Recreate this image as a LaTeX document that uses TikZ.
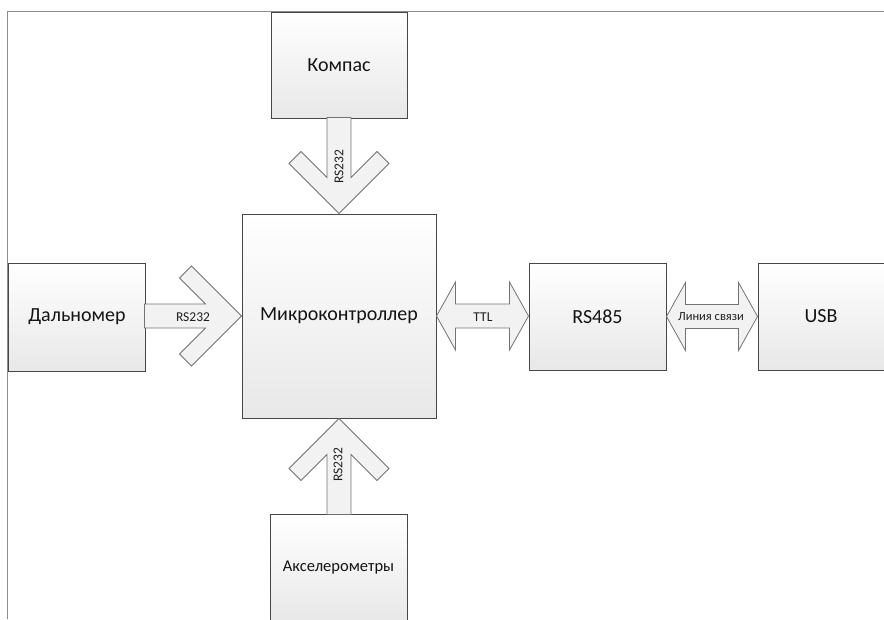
\documentclass[tikz,border=0pt]{standalone}
\usepackage{fontspec}
\setmainfont{Carlito}
\usetikzlibrary{calc}
\tikzset{
  box/.style={draw=black!72, line width=1pt, inner sep=0pt,
    top color=white, bottom color=black!9,
    font=\fontsize{20}{22}\selectfont, text=black!92},
  arrowshape/.style={draw=black!55, line width=0.8pt, fill=black!5, line join=miter},
  lbl/.style={font=\fontsize{13.5}{15}\selectfont, text=black!88, inner sep=0pt},
  frameline/.style={draw=black!45, line width=1pt}
}
\newcommand\chevarrow[3]{%
  \draw[arrowshape, shift={(#1)}, rotate=#2]
    (0,0) -- (-50,50) -- (-62,38) -- (-36,12) -- (-#3,12) -- (-#3,-12)
    -- (-36,-12) -- (-62,-38) -- (-50,-50) -- cycle;}
\begin{document}
\begin{tikzpicture}[x=1pt,y=-1pt]
\useasboundingbox (0,0) rectangle (884,619);
\begin{scope}
\clip (0,0) rectangle (884,619);
\draw[frameline] (7,619) -- (7,11) -- (884,11);

\node[box, minimum width=136, minimum height=106] (kompas) at (339,65) {Компас};
\node[box, minimum width=194, minimum height=204] (mcu) at (339,316) {Микроконтроллер};
\node[box, minimum width=137, minimum height=108] (dal) at (77,317) {Дальномер};
\node[box, minimum width=137, minimum height=107] (rs) at (597.5,316.5) {RS485};
\node[box, minimum width=137, minimum height=107] (usb) at (826.5,316.5) {\hspace*{-11pt}USB};
\node[box, minimum width=137, minimum height=107, font=\fontsize{16.5}{18}\selectfont] (acc) at (338.5,567.5) {Акселерометры};

% chevron arrows
\chevarrow{mcu.north}{-90}{96}
\chevarrow{mcu.west}{0}{97}
\chevarrow{mcu.south}{90}{96}

\node[lbl, rotate=90] (l1) at (339,167) {RS232};
\node[lbl] (l2) at (193,317) {RS232};
\node[lbl, rotate=90] (l3) at (338,465) {RS232};

% double block arrows
\draw[arrowshape] let \p1=(mcu.east), \p2=(rs.west) in
  (\p1) -- (\x1+19pt,\y1+34pt) -- (\x1+19pt,\y1+12pt) -- (\x2-19pt,\y1+12pt)
  -- (\x2-19pt,\y1+34pt) -- (\x2,\y1) -- (\x2-19pt,\y1-34pt) -- (\x2-19pt,\y1-12pt)
  -- (\x1+19pt,\y1-12pt) -- (\x1+19pt,\y1-34pt) -- cycle;
\draw[arrowshape] let \p1=(rs.east), \p2=(usb.west) in
  (\p1) -- (\x1+19pt,\y1+34pt) -- (\x1+19pt,\y1+12pt) -- (\x2-19pt,\y1+12pt)
  -- (\x2-19pt,\y1+34pt) -- (\x2,\y1) -- (\x2-19pt,\y1-34pt) -- (\x2-19pt,\y1-12pt)
  -- (\x1+19pt,\y1-12pt) -- (\x1+19pt,\y1-34pt) -- cycle;
\node[lbl] (l4) at (483,317) {TTL};
\node[lbl, font=\fontsize{12.5}{14}\selectfont] (l5) at (711,317) {Линия связи};
\end{scope}
\end{tikzpicture}
\end{document}
